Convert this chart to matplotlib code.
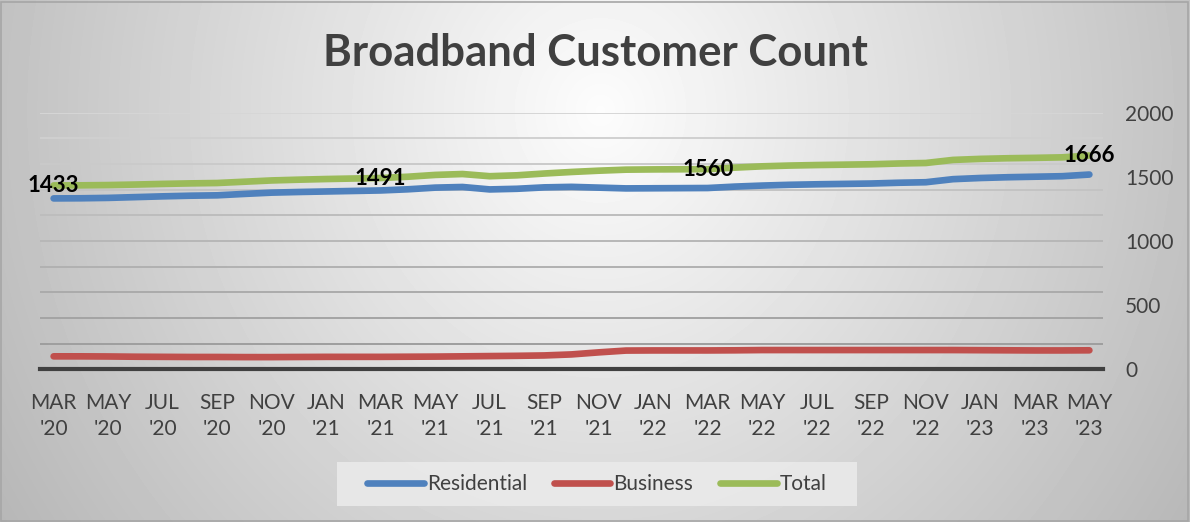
import numpy as np
import matplotlib
matplotlib.use("Agg")
import matplotlib.pyplot as plt
from matplotlib.patches import Rectangle

plt.rcParams['font.family'] = ['Lato', 'DejaVu Sans']

# monthly counts, Mar 2020 - May 2023
total = [1433, 1434, 1436, 1440, 1445, 1449, 1452, 1462, 1472, 1478,
         1483, 1487, 1491, 1501, 1515, 1522, 1505, 1512, 1526, 1538,
         1548, 1556, 1558, 1559, 1560, 1572, 1582, 1588, 1592, 1595,
         1598, 1604, 1608, 1632, 1640, 1645, 1648, 1652, 1666]
business = [101, 101, 100, 98, 97, 96, 96, 95, 95, 96,
            97, 97, 97, 98, 99, 101, 103, 105, 108, 116,
            132, 146, 147, 147, 147, 148, 150, 150, 150, 150,
            150, 150, 150, 150, 149, 148, 147, 147, 148]
residential = [1332, 1333, 1336, 1342, 1348, 1353, 1356, 1367, 1377, 1382,
               1386, 1390, 1394, 1403, 1416, 1421, 1402, 1407, 1418, 1422,
               1416, 1410, 1411, 1412, 1413, 1424, 1432, 1438, 1442, 1445,
               1448, 1454, 1458, 1482, 1491, 1497, 1501, 1505, 1518]
tick_labels = ["MAR\n'20", "MAY\n'20", "JUL\n'20", "SEP\n'20", "NOV\n'20",
               "JAN\n'21", "MAR\n'21", "MAY\n'21", "JUL\n'21", "SEP\n'21",
               "NOV\n'21", "JAN\n'22", "MAR\n'22", "MAY\n'22", "JUL\n'22",
               "SEP\n'22", "NOV\n'22", "JAN\n'23", "MAR\n'23", "MAY\n'23"]
labelled = [0, 12, 24, 38]  # months with a value label on Total

months = np.arange(len(total))

W, H = 1190, 522
fig = plt.figure(figsize=(W / 100, H / 100), dpi=100)

# radial gray background
bg = fig.add_axes([0, 0, 1, 1], zorder=-5)
yy, xx = np.mgrid[0:H, 0:W]
d = np.sqrt(((xx - 600) / 650.0) ** 2 + ((yy - 110) / 700.0) ** 2)
shade = np.clip(0.99 - 0.25 * d, 0, 1)
bg.imshow(shade, cmap='gray', vmin=0, vmax=1, aspect='auto',
          extent=[0, 1, 0, 1], interpolation='bilinear')
bg.axis('off')
fig.patches.append(Rectangle((0.001, 0.002), 0.997, 0.995, transform=fig.transFigure,
                             fill=False, edgecolor='#a6a6a6', lw=1.2))

ax = fig.add_axes([40 / W, 152.7 / H, 1063 / W, 256.6 / H])
ax.set_facecolor('none')

# graded gridlines, every 200
levels = np.arange(200, 2001, 200)
for i, lv in enumerate(levels):
    c = 0.62 + 0.22 * i / (len(levels) - 1)
    ax.axhline(lv, color=(c, c, c), lw=1.4, zorder=1)

ax.plot(months, residential, color='#4f81bd', lw=4.8, solid_capstyle='round', label='Residential', zorder=3)
ax.plot(months, business, color='#c0504d', lw=4.8, solid_capstyle='round', label='Business', zorder=3)
ax.plot(months, total, color='#9bbb59', lw=4.8, solid_capstyle='round', label='Total', zorder=3)

for m in labelled:
    ax.text(m, total[m], str(total[m]), ha='center', va='center',
            fontsize=16, fontweight='bold', color='black', zorder=4)

ax.set_xlim(-0.5, 38.5)
ax.set_ylim(0, 2000)
ax.set_xticks(months[::2])
ax.set_xticklabels(tick_labels, fontsize=15, color='#404040', linespacing=1.4)
ax.yaxis.tick_right()
ax.set_yticks([0, 500, 1000, 1500, 2000])
ax.tick_params(axis='y', length=0, pad=16, labelsize=15, labelcolor='#404040')
ax.tick_params(axis='x', length=0, pad=17)
for s in ['top', 'left', 'right']:
    ax.spines[s].set_visible(False)
ax.spines['bottom'].set_color('#404040')
ax.spines['bottom'].set_linewidth(3)
ax.spines['bottom'].set_zorder(2)

fig.text(0.5, 1 - 53 / H, "Broadband Customer Count", ha='center', va='center',
         fontsize=31.5, fontweight='bold', color='#404040')

# legend
fig.patches.append(Rectangle((337 / W, 1 - 506 / H), 520 / W, 44 / H, transform=fig.transFigure,
                             facecolor='#ebebeb', edgecolor='none', alpha=0.85, zorder=0))
leg = fig.legend(loc='center', bbox_to_anchor=(597 / W, 1 - 484 / H), ncol=3, frameon=False,
                 fontsize=15, handlelength=2.7, handletextpad=0.15, columnspacing=1.3)
for t in leg.get_texts():
    t.set_color('#404040')
for h in leg.get_lines():
    h.set_solid_capstyle('round')

fig.savefig("out.png", dpi=100)
